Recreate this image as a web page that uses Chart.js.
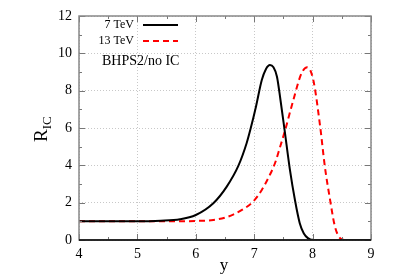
<!DOCTYPE html>
<html>
<head>
<meta charset="utf-8">
<script src="https://cdn.jsdelivr.net/npm/chart.js@4"></script>
<style>
  html, body { margin: 0; padding: 0; background: #fff; }
  #wrap { width: 395px; height: 276px; }
</style>
</head>
<body>
<div id="wrap"><canvas id="ric"></canvas></div>
<script>
// values
var x7 = [4, 5, 5.4, 5.73, 6.0, 6.3, 6.53, 6.73, 6.87, 6.94, 7.03, 7.13, 7.2, 7.27, 7.33, 7.39, 7.45, 7.52, 7.61, 7.70, 7.78, 7.85, 7.92, 8.0, 9];
var y7 = [1.0, 1.0, 1.03, 1.11, 1.34, 1.97, 2.86, 3.98, 5.18, 5.98, 7.14, 8.57, 9.15, 9.37, 9.25, 8.75, 7.5, 5.9, 3.8, 2.1, 0.9, 0.35, 0.1, 0, 0];
var x13 = [4, 5.5, 6.0, 6.3, 6.5, 6.64, 6.79, 6.98, 7.13, 7.27, 7.36, 7.44, 7.53, 7.67, 7.81, 7.91, 8.01, 8.13, 8.21, 8.30, 8.38, 8.47, 8.55, 9];
var y13 = [1.0, 1.0, 1.02, 1.07, 1.2, 1.36, 1.61, 2.05, 2.68, 3.5, 4.15, 4.95, 5.89, 7.5, 8.93, 9.25, 8.6, 6.07, 3.93, 2.14, 0.75, 0.1, 0, 0];
var legendLabels = ["7 TeV", "13 TeV"];
var note = "BHPS2/no IC";

function pts(xs, ys) {
  return xs.map((x, i) => ({ x: x, y: ys[i] }));
}

var serif = "'Liberation Serif', 'DejaVu Serif', serif";

// box, inward ticks, legend and axis titles
const decor = {
  id: "decor",
  afterDraw(chart) {
    const ctx = chart.ctx;
    const a = chart.chartArea;
    const xs = chart.scales.x;
    const ys = chart.scales.y;
    ctx.save();

    ctx.strokeStyle = "#777";
    ctx.lineWidth = 1;
    for (let v = 4; v <= 9.001; v += 0.5) {
      const p = Math.round(xs.getPixelForValue(v)) + 0.5;
      const len = Number.isInteger(v) ? 6 : 3;
      ctx.beginPath();
      ctx.moveTo(p, a.bottom); ctx.lineTo(p, a.bottom - len);
      ctx.moveTo(p, a.top); ctx.lineTo(p, a.top + len);
      ctx.stroke();
    }
    for (let v = 0; v <= 12; v += 1) {
      const p = Math.round(ys.getPixelForValue(v)) + 0.5;
      const len = v % 2 === 0 ? 6 : 3;
      ctx.beginPath();
      ctx.moveTo(a.left, p); ctx.lineTo(a.left + len, p);
      ctx.moveTo(a.right, p); ctx.lineTo(a.right - len, p);
      ctx.stroke();
    }

    ctx.strokeStyle = "#888";
    ctx.lineWidth = 1.5;
    ctx.strokeRect(a.left, a.top, a.right - a.left, a.bottom - a.top);
    ctx.strokeStyle = "#000";
    ctx.beginPath();
    ctx.moveTo(a.left, a.bottom); ctx.lineTo(a.right, a.bottom);
    ctx.stroke();

    // legend
    const ds = chart.data.datasets;
    ctx.font = "12px " + serif;
    ctx.textAlign = "right";
    ctx.textBaseline = "middle";
    ctx.fillStyle = "#000";
    ds.forEach((d, i) => {
      const yy = 25 + i * 16;
      ctx.fillText(d.label, 134, yy);
      ctx.strokeStyle = d.borderColor;
      ctx.lineWidth = 2;
      ctx.setLineDash(d.borderDash || []);
      ctx.beginPath();
      ctx.moveTo(143, yy); ctx.lineTo(178, yy);
      ctx.stroke();
      ctx.setLineDash([]);
    });
    ctx.font = "14px " + serif;
    ctx.textAlign = "left";
    ctx.fillText(note, 102, 61);

    // y title R_IC
    ctx.translate(41, 130);
    ctx.rotate(-Math.PI / 2);
    ctx.textAlign = "left";
    ctx.textBaseline = "alphabetic";
    ctx.font = "19px " + serif;
    ctx.fillText("R", -12, 6);
    const w = ctx.measureText("R").width;
    ctx.font = "13px " + serif;
    ctx.fillText("IC", -12 + w, 10);
    ctx.restore();

    ctx.save();
    ctx.font = "17px " + serif;
    ctx.textAlign = "center";
    ctx.textBaseline = "middle";
    ctx.fillStyle = "#000";
    ctx.fillText("y", 224, 266);
    ctx.restore();
  }
};

new Chart("ric", {
  type: "line",
  data: {
    datasets: [
      {
        label: legendLabels[0],
        data: pts(x7, y7),
        borderColor: "#000",
        borderWidth: 2,
        pointRadius: 0,
        cubicInterpolationMode: "monotone",
      },
      {
        label: legendLabels[1],
        data: pts(x13, y13),
        borderColor: "#ff0000",
        borderWidth: 2,
        borderDash: [6, 4],
        pointRadius: 0,
        cubicInterpolationMode: "monotone",
      },
    ],
  },
  options: {
    responsive: true,
    maintainAspectRatio: false,
    animation: false,
    layout: { padding: { top: 16, right: 24, left: 0, bottom: 0 } },
    plugins: { legend: { display: false }, tooltip: { enabled: false } },
    scales: {
      x: {
        type: "linear",
        min: 4,
        max: 9,
        afterFit: (s) => { s.height = 36; },
        ticks: { stepSize: 1, color: "#000", padding: 6, font: { family: serif, size: 14 } },
        grid: { color: "#c8c8c8", drawTicks: false },
        border: { display: false, dash: [1, 2] },
      },
      y: {
        min: 0,
        max: 12,
        afterFit: (s) => { s.width = 79; },
        ticks: { stepSize: 2, color: "#000", padding: 7, font: { family: serif, size: 14 } },
        grid: { color: "#c8c8c8", drawTicks: false },
        border: { display: false, dash: [1, 2] },
      },
    },
  },
  plugins: [decor],
});
</script>
</body>
</html>
